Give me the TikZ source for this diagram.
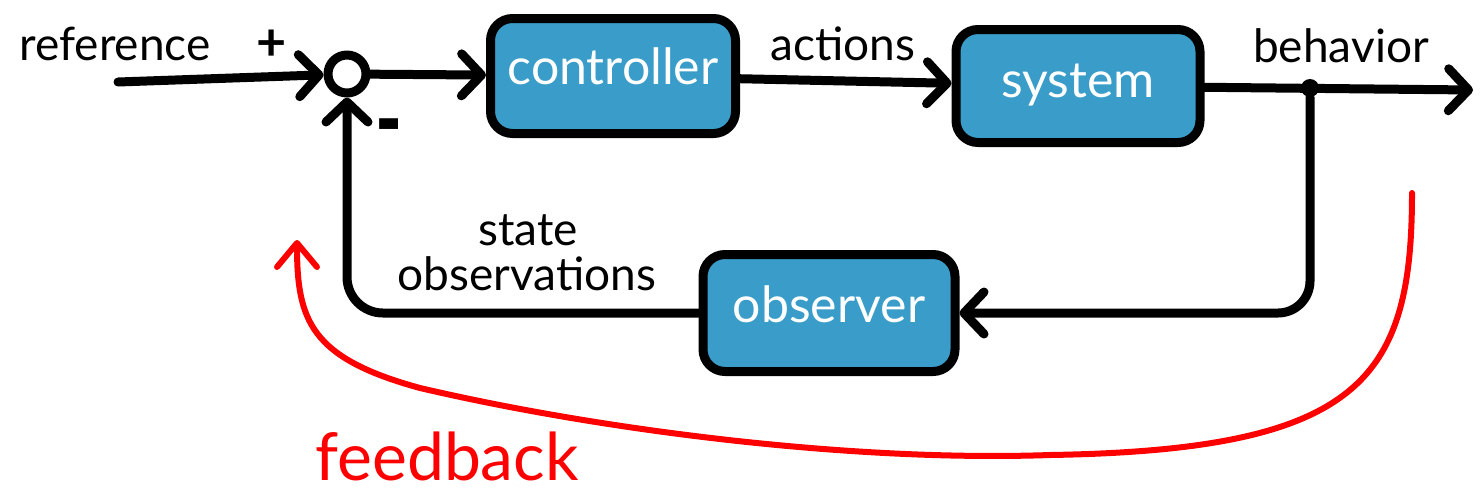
\documentclass[tikz,border=0pt]{standalone}
\usepackage{fontspec}
\usepackage{graphicx}
\setmainfont{Lato}
\usetikzlibrary{arrows.meta}
\definecolor{boxblue}{RGB}{57,156,201}
\definecolor{fbred}{RGB}{255,0,0}
\begin{document}
\begin{tikzpicture}[x=1pt,y=-1pt,line cap=round,line join=round,
  blk/.style={draw=black,line width=9pt,fill=boxblue,rounded corners=22pt,text=white,
    font=\fontsize{50}{55}\selectfont,inner sep=0pt},
  wire/.style={line width=9pt,-{Straight Barb[length=20pt,width=42pt,round]}},
  redwire/.style={draw=fbred,line width=6pt,-{Straight Barb[length=24pt,width=40pt,round]}},
  lbl/.style={font=\fontsize{46}{50}\selectfont,anchor=base,inner sep=0pt},
  sign/.style={font=\bfseries\fontsize{52}{52}\selectfont,inner sep=0pt}]
\useasboundingbox (0,0) rectangle (1482,496);

% blocks
\node[blk,minimum width=245pt,minimum height=115pt,text height=30pt,text depth=14pt] (controller) at (613,76) {controller};
\node[blk,minimum width=244pt,minimum height=113pt,text height=32pt,text depth=10pt] (system) at (1078,86) {system};
\node[blk,minimum width=252pt,minimum height=117pt,text height=30pt,text depth=12pt] (observer) at (829,313) {observer};
\node[draw=black,line width=9pt,circle,minimum size=38pt,inner sep=0pt] (sum) at (347,74) {};
\node[circle,fill=black,minimum size=18pt,inner sep=0pt] (dot) at (1310,88) {};

\coordinate (refin) at (118,82);
\coordinate (out) at (1473,90);

% labels
\node[lbl] (lref) at (115,60) {reference};
\node[lbl] (lact) at (843,60) {actions};
\node[lbl] (lbeh) at (1341,62) {behavior};
\node[lbl] (lstate) at (528,245) {state};
\node[lbl] (lobs) at (527,290) {observations};
\node[sign] (plus) at (272,45) {+};
\node[sign] (minus) at (389,137) {\scalebox{1.4}[2.0]{-}};
\node[lbl,text=fbred,font=\fontsize{66}{68}\selectfont] (lfb) at (447,480) {feedback};

% connectors
\draw[wire] (refin) -- (sum);
\draw[wire] (sum) -- (controller);
\draw[wire] (controller) -- (system);
\draw[wire] (system) -- (out);
\draw[wire,rounded corners=32pt] (dot) |- (observer);
\draw[wire,rounded corners=36pt] (observer) -| (sum);

% red feedback arrow
\coordinate (fbstart) at (1412,193);
\coordinate (fbend) at (297,240);
\draw[redwire] (fbstart) .. controls (1412,380) and (1360,450) .. (1050,455)
  .. controls (850,462) and (600,430) .. (420,388)
  .. controls (310,358) and (297,320) .. (fbend);
\end{tikzpicture}
\end{document}
